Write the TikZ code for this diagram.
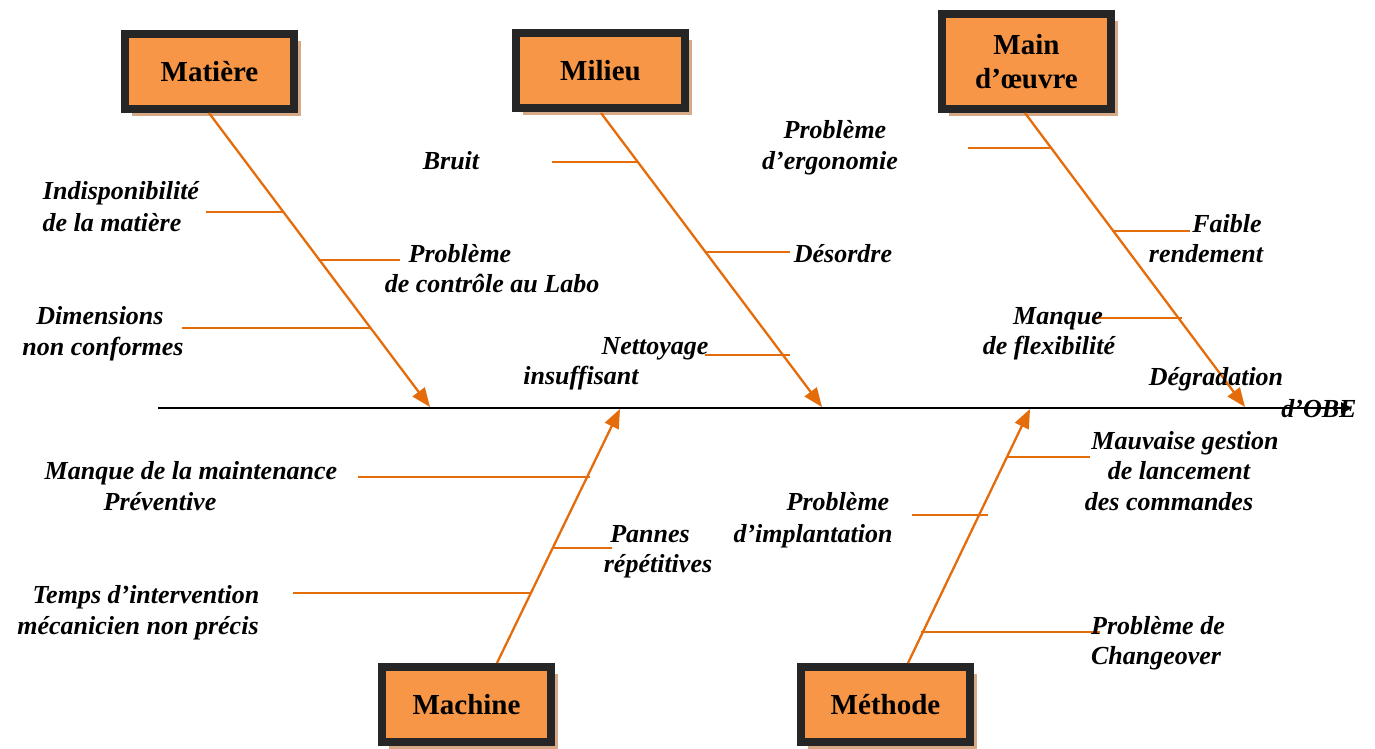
\documentclass[tikz,border=0pt]{standalone}
\usepackage{fontspec}
\setmainfont{Liberation Serif}
\usetikzlibrary{arrows.meta,shadows}
\definecolor{boxfill}{RGB}{247,150,70}
\definecolor{boxedge}{RGB}{38,38,38}
\definecolor{shad}{RGB}{214,170,135}
\definecolor{brc}{RGB}{228,108,10}
\tikzset{
  catbox/.style={draw=boxedge, line width=8pt, fill=boxfill, inner sep=0pt, outer sep=0pt,
    minimum width=169pt, minimum height=75pt, align=center,
    font=\fontsize{29}{34}\selectfont\bfseries,
    drop shadow={shadow xshift=7pt, shadow yshift=-7pt, fill=shad, opacity=1}},
  branch/.style={draw=brc, line width=2.3pt, -{Triangle[length=19pt,width=15pt]}},
  sub/.style={draw=brc, line width=1.6pt},
  spine/.style={draw=black, line width=2.5pt, -{Triangle[length=11pt,width=11pt]}},
  lbl/.style={anchor=base, inner sep=0pt, font=\fontsize{26}{31}\selectfont\bfseries\itshape},
}
\begin{document}
\begin{tikzpicture}[x=1pt,y=-1pt]
\useasboundingbox (0,0) rectangle (1375,749);
% category boxes
\node[catbox] (mat) at (209.5,71.5) {Matière};
\node[catbox] (mil) at (600.5,71) {Milieu};
\node[catbox, minimum height=95pt] (mo) at (1026.5,61.5) {Main\\d’œuvre};
\node[catbox] (mac) at (466.5,704.5) {Machine};
\node[catbox] (met) at (885.5,704.5) {Méthode};
% spine
\coordinate (tail) at (158,408);
\coordinate (head) at (1352,408);
\draw[spine] (tail) -- (head);
% arrow targets on spine
\coordinate (t1) at (430,407);
\coordinate (t2) at (822,407);
\coordinate (t3) at (1245,407);
\coordinate (t4) at (620,409);
\coordinate (t5) at (1030,409);
\coordinate (s1) at (209,113);
\coordinate (s2) at (601,113);
\coordinate (s3) at (1025,113);
\coordinate (s4) at (497,663);
\coordinate (s5) at (908,663);
\draw[branch] (s1) -- (t1);
\draw[branch] (s2) -- (t2);
\draw[branch] (s3) -- (t3);
\draw[branch] (s4) -- (t4);
\draw[branch] (s5) -- (t5);
% sub-branches
\foreach \n/\xa/\xb/\yy in {a1/206/283/212, a2/318/400/260, a3/182/370/328,
  b1/552/638/162, b2/706/790/252, b3/705/790/355,
  c1/968/1052/148, c2/1112/1190/231, c3/1095/1182/318,
  d1/358/590/477, d2/553/612/548, d3/293/530/593,
  e1/1007/1090/457, e2/912/988/515, e3/921/1100/632}{
  \coordinate (\n l) at (\xa,\yy);
  \coordinate (\n r) at (\xb,\yy);
  \draw[sub] (\n l) -- (\n r);
}
% labels
\node[lbl] (la1) at (121,199) {Indisponibilité};
\node[lbl] (la2) at (112,231) {de la matière};
\node[lbl] (lb1) at (460,262) {Problème};
\node[lbl] (lb2) at (492,292) {de contrôle au Labo};
\node[lbl] (lc1) at (100,324) {Dimensions};
\node[lbl] (lc2) at (103,355) {non conformes};
\node[lbl] (ld1) at (451,169) {Bruit};
\node[lbl] (le1) at (843,262) {Désordre};
\node[lbl] (lf1) at (655,354) {Nettoyage};
\node[lbl] (lf2) at (581,384) {insuffisant};
\node[lbl] (lg1) at (835,139) {Problème};
\node[lbl] (lg2) at (830,169) {d’ergonomie};
\node[lbl] (lh1) at (1227,232) {Faible};
\node[lbl] (lh2) at (1206,262) {rendement};
\node[lbl] (li1) at (1058,324) {Manque};
\node[lbl] (li2) at (1049,354) {de flexibilité};
\node[lbl] (lj1) at (1216,385) {Dégradation};
\node[lbl] (lj2) at (1319,417) {d’OBE};
\node[lbl] (lk1) at (191,479) {Manque de la maintenance};
\node[lbl] (lk2) at (160,510) {Préventive};
\node[lbl] (ll1) at (650,542) {Pannes};
\node[lbl] (ll2) at (658,572) {répétitives};
\node[lbl] (lm1) at (146,603) {Temps d’intervention};
\node[lbl] (lm2) at (138,634) {mécanicien non précis};
\node[lbl] (ln1) at (1185,449) {Mauvaise gestion};
\node[lbl] (ln2) at (1179,479) {de lancement};
\node[lbl] (ln3) at (1169,510) {des commandes};
\node[lbl] (lo1) at (838,510) {Problème};
\node[lbl] (lo2) at (813,542) {d’implantation};
\node[lbl] (lp1) at (1158,634) {Problème de};
\node[lbl] (lp2) at (1156,664) {Changeover};
\end{tikzpicture}
\end{document}
